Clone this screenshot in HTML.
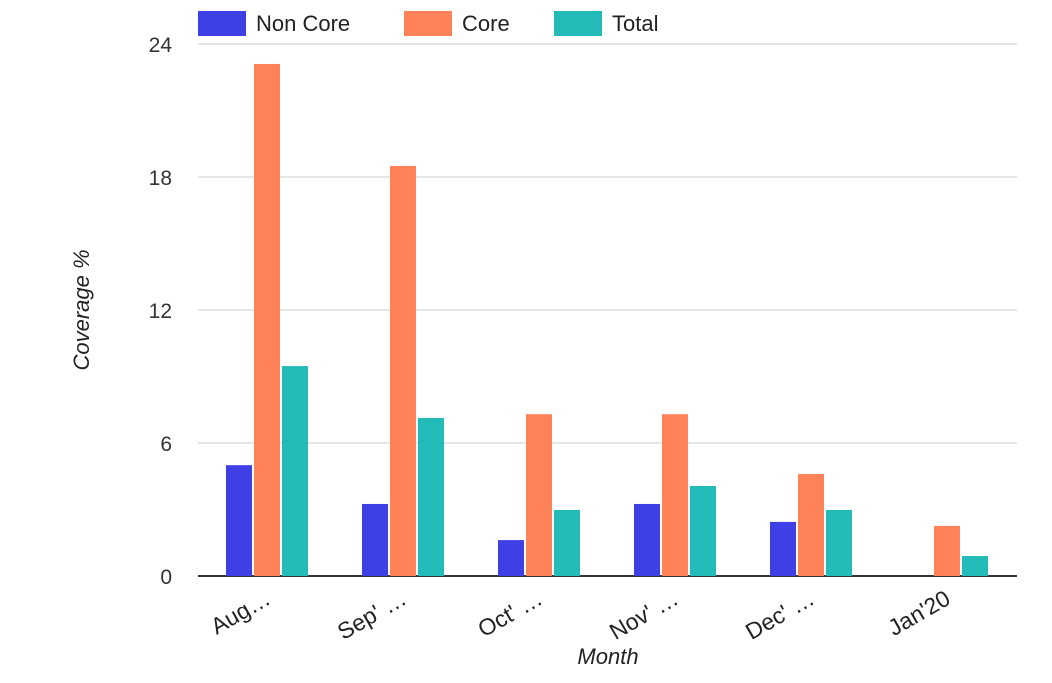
<!DOCTYPE html>
<html><head><meta charset="utf-8"><style>
body{margin:0;background:#fff}
svg text{font-family:"Liberation Sans",Arial,sans-serif}
</style></head><body>
<svg id="chart" width="1052" height="678" xmlns="http://www.w3.org/2000/svg">
<g id="legend">
<g><rect x="198" y="11" width="48" height="25" fill="#3f3fe6"/><text x="256" y="31" font-size="22" fill="#222">Non Core</text></g>
<g><rect x="404" y="11" width="48" height="25" fill="#ff8259"/><text x="462" y="31" font-size="22" fill="#222">Core</text></g>
<g><rect x="554" y="11" width="48" height="25" fill="#22bbb8"/><text x="612" y="31" font-size="22" fill="#222">Total</text></g>
</g>
<g id="grid"></g>
<g id="bars"></g>
<g id="xlabels"></g>
<text transform="translate(89,310) rotate(-90)" text-anchor="middle" font-size="22" font-style="italic" fill="#222">Coverage %</text>
<text x="608" y="664" text-anchor="middle" font-size="22" font-style="italic" fill="#222">Month</text>
</svg>
<script>
const categories=["Aug…","Sep' …","Oct' …","Nov' …","Dec' …","Jan'20"];
const nonCore=[5.0,3.25,1.62,3.25,2.44,0];
const core=[23.1,18.5,7.3,7.3,4.6,2.26];
const total=[9.47,7.13,2.98,4.06,2.98,0.9];
const yTicks=[0,6,12,18,24];
const NS="http://www.w3.org/2000/svg";
const x0=200,x1=1016,yMin=0,yMax=24,py0=576,py1=44;
const band=(x1-x0)/categories.length;
const y=v=>py0-(v-yMin)/(yMax-yMin)*(py0-py1);
const xc=i=>x0+band*(i+0.5);
function mk(t,a,p){const e=document.createElementNS(NS,t);for(const k in a)e.setAttribute(k,a[k]);p.appendChild(e);return e;}
const grid=document.getElementById('grid');
yTicks.forEach(t=>{
 const l=mk('line',{x1:198,x2:1017,y1:y(t),y2:y(t),stroke:t===0?'#333':'#ccc','stroke-width':t===0?2:1},grid);
 
 
 const tx=mk('text',{x:172,y:y(t)+8,'text-anchor':'end','font-size':21,fill:'#333'},grid);
 tx.textContent=t;
 
 
});
const bars=document.getElementById('bars');
const series=[[nonCore,'#3f3fe6','non-core'],[core,'#ff8259','core'],[total,'#22bbb8','total']];
const bw=26,gap=2;
categories.forEach((c,i)=>{
 series.forEach((s,j)=>{
  const v=s[0][i];
  const bx=xc(i)-42+j*(bw+gap);
  const r=mk('rect',{x:bx,y:y(v),width:bw,height:Math.max(0,py0-y(v)),fill:s[1]},bars);
  
  
 });
 const t=mk('text',{transform:`translate(${xc(i)+4},603) rotate(-30)`,'text-anchor':'end','font-size':23,fill:'#222'},document.getElementById('xlabels'));
 t.textContent=c;
 
 
});
</script>
</body></html>
